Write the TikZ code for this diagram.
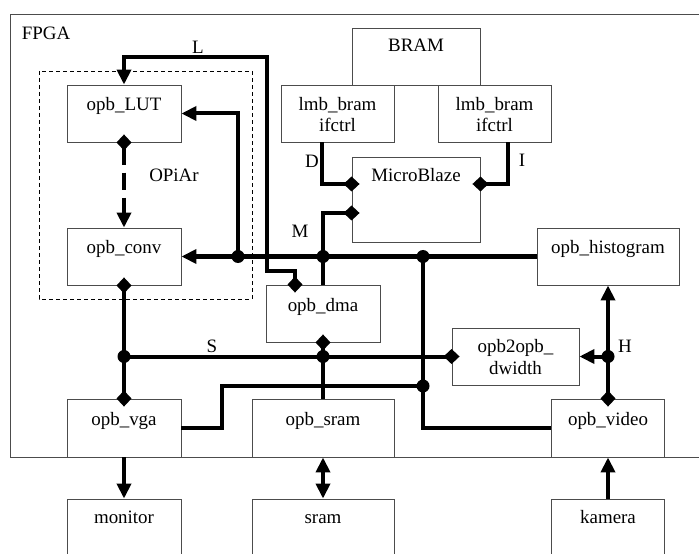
\documentclass[tikz,border=0pt]{standalone}
\usepackage{fontspec}
\setmainfont{Liberation Serif}
\usetikzlibrary{arrows.meta}
\tikzset{arr/.tip={Triangle[length=15bp,width=14bp]},
  port/.tip={Diamond[length=16bp,width=15bp]}}

\begin{document}
\begin{tikzpicture}[x=1bp,y=-1bp,font=\fontsize{19}{22}\selectfont,
  box/.style={draw=black!70,line width=0.9bp,inner sep=0pt,minimum width=114bp,
    minimum height=57bp,align=center,text height=26bp,text depth=31bp},
  twoline/.style={text height=47bp,text depth=10bp},
  bus/.style={line width=4bp},
  dot/.style={fill=black}]
\useasboundingbox (0,0) rectangle (699,554);
\clip (0,0) rectangle (699,554);

% FPGA frame and OPiAr group
\draw[black!70,line width=0.9bp] (10,14) rectangle (712,457);
\node (fpga) at (46,33) {FPGA};
\draw[line width=0.9bp,dash pattern=on 4bp off 3bp] (39,71) rectangle (252,299);

\node[box] (lut) at (124,113.5) {opb\_LUT};
\node[box] (conv) at (124,256.5) {opb\_conv};
\node[box,minimum width=128bp,text height=24bp,text depth=33bp] (bram) at (416,56.5) {BRAM};
\node[box,twoline,minimum width=113bp] (ctrld) at (337.5,113.5) {lmb\_bram\\ifctrl};
\node[box,twoline,minimum width=113bp] (ctrli) at (494.5,113.5) {lmb\_bram\\ifctrl};
\node[box,minimum width=128bp,text height=25bp,text depth=60bp] (mb) at (416,199.5) {MicroBlaze};
\node[box] (dma) at (323,313.5) {opb\_dma};
\node[box,minimum width=142bp] (hist) at (608,256.5) {opb\_histogram};
\node[box,twoline,minimum width=127bp,text height=46bp,text depth=11bp] (dw) at (515.5,356.5) {opb2opb\_\\dwidth};
\node[box,text depth=32bp] (vga) at (124,428) {opb\_vga};
\node[box,minimum width=142bp,text depth=32bp] (ssram) at (323,428) {opb\_sram};
\node[box,minimum width=113bp,text depth=32bp] (video) at (608,428) {opb\_video};
\node[box,text height=24bp,text depth=56bp] (monitor) at (124,539) {monitor};
\node[box,minimum width=142bp,text height=24bp,text depth=56bp] (sram) at (323,539) {sram};
\node[box,minimum width=113bp,text height=24bp,text depth=56bp] (kamera) at (608,539) {kamera};

% junctions
\coordinate (jl) at (238,256.5);
\coordinate (jm) at (323,256.5);
\coordinate (jv) at (423,256.5);
\coordinate (js) at (124,356.5);
\coordinate (jd) at (323,356.5);
\coordinate (jr) at (423,386);
\coordinate (jh) at (608,356.5);

% buses
\draw[bus,-arr] (hist.west) -- (conv.east);
\draw[bus,-arr] (jl) |- (lut.east);
\draw[bus,-port,shorten >=-8bp] (dma.north) -- (jm) |- ([yshift=-13.5bp]mb.west);
\draw[bus,-port,shorten >=-8bp] ([xshift=-15.5bp]ctrld.south) |- ([yshift=15.5bp]mb.west);
\draw[bus,-port,shorten >=-8bp] ([xshift=13.5bp]ctrli.south) |- ([yshift=15.5bp]mb.east);
\draw[bus,port-arr,shorten <=-8bp] ([xshift=-28bp]dma.north) |- (267,271) |- (124,57) -- (lut.north);
\draw[bus,port-arr,shorten <=-8bp,dash pattern=on 17bp off 8bp] (lut.south) -- (conv.north);
\draw[bus,port-port,shorten <=-8bp,shorten >=-8bp] (conv.south) -- (vga.north);
\draw[bus,-port,shorten >=-8bp] (js) -- (dw.west);
\draw[bus,port-,shorten <=-8bp] (dma.south) -- (ssram.north);
\draw[bus] (jv) |- (video.west);
\draw[bus] (jr) -- (222,386) |- (vga.east);
\draw[bus,port-arr,shorten <=-8bp] (video.north) -- (hist.south);
\draw[bus,-arr] (jh) -- (dw.east);
\draw[bus,-arr] (vga.south) -- (monitor.north);
\draw[bus,arr-arr] (ssram.south) -- (sram.north);
\draw[bus,-arr] (kamera.north) -- (video.south);
\foreach \j in {jl,jm,jv,js,jd,jr,jh}
  \fill[dot] (\j) circle[radius=6.5bp];

% bus names
\node (l) at (198,47) {L};
\node (d) at (312,161) {D};
\node (i) at (522,160) {I};
\node (m) at (300,231) {M};
\node (s) at (212,346) {S};
\node (h) at (625,346) {H};
\node (opiar) at (174,175) {OPiAr};

\end{tikzpicture}
\end{document}
